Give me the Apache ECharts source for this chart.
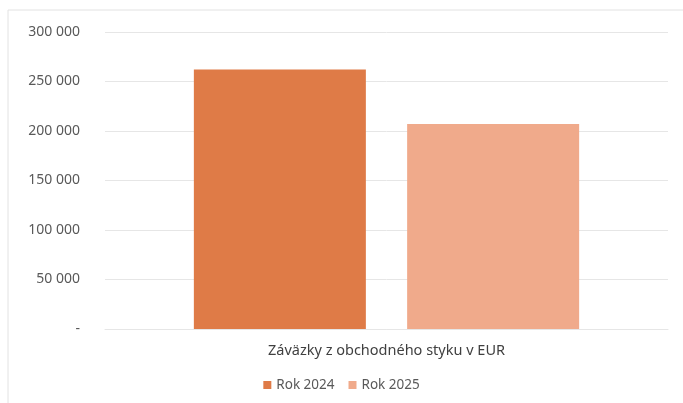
<!DOCTYPE html>
<html><head><meta charset="utf-8">
<script src="https://cdn.jsdelivr.net/npm/echarts@6/dist/echarts.min.js"></script>
<style>html,body{margin:0;padding:0;background:#fff}#c{width:683px;height:403px}</style>
</head><body><div id="c"></div>
<script>
const categories = ['Záväzky z obchodného styku v EUR'];
const seriesNames = ['Rok 2024', 'Rok 2025'];
const values2024 = [262000];
const values2025 = [207000];
const yTicks = [0, 50000, 100000, 150000, 200000, 250000, 300000];

const chart = echarts.init(document.getElementById('c'));
const font = 'Noto Sans';
chart.setOption({
  animation: false,
  backgroundColor: '#fff',
  textStyle: { fontFamily: font },
  graphic: [{ type: 'rect', shape: { x: 8, y: 10, width: 690, height: 400 }, style: { fill: 'none', stroke: '#e2e2e2', lineWidth: 1 } }],
  grid: { left: 105, right: 15, top: 32, bottom: 74, containLabel: false },
  legend: {
    bottom: 6, left: 'center', itemWidth: 8, itemHeight: 8, itemGap: 14,
    icon: 'rect', textStyle: { color: '#595959', fontSize: 13.5, fontFamily: font },
    data: seriesNames
  },
  xAxis: {
    type: 'category', data: categories,
    axisLine: { show: true, lineStyle: { color: '#e6e6e6' } }, axisTick: { show: false },
    axisLabel: { color: '#404040', fontSize: 14.5, margin: 14, fontFamily: font }
  },
  yAxis: {
    type: 'value', min: yTicks[0], max: yTicks[yTicks.length - 1], interval: 50000,
    axisLine: { show: false }, axisTick: { show: false },
    splitLine: { lineStyle: { color: '#e6e6e6' } },
    axisLabel: {
      color: '#595959', fontSize: 14, margin: 25, fontFamily: font,
      formatter: v => v === 0 ? '-' : String(v).replace(/\B(?=(\d{3})+(?!\d))/g, ' ')
    }
  },
  series: [
    { name: seriesNames[0], type: 'bar', data: values2024, barWidth: 172, barGap: '24%', itemStyle: { color: '#DF7B47' } },
    { name: seriesNames[1], type: 'bar', data: values2025, barWidth: 172, itemStyle: { color: '#F0AA8B' } }
  ]
});
</script></body></html>
